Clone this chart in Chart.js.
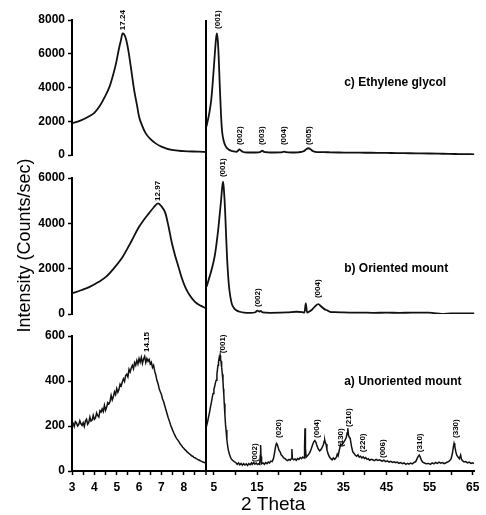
<!DOCTYPE html>
<html><head><meta charset="utf-8">
<script src="https://cdn.jsdelivr.net/npm/chart.js@4.4.1/dist/chart.umd.min.js"></script>
<style>html,body{margin:0;padding:0;background:#fff;}#wrap{position:relative;width:486px;height:515px;}</style>
</head><body><div id="wrap"><canvas id="c"></canvas></div>
<script>
// ---------- DATA (2θ in degrees, intensity in counts/sec) ----------
// c) Ethylene glycol
const glycolLow = [[3.0,1880],[3.4,2050],[3.79,2310],[4.0,2500],[4.24,2900],[4.45,3400],[4.68,4050],[4.85,4800],[4.97,5430],[5.1,6300],[5.19,6810],[5.26,7210],[5.33,7150],[5.41,6900],[5.52,6200],[5.63,5230],[5.78,3850],[5.9,3000],[6.0,2270],[6.15,1700],[6.3,1280],[6.5,950],[6.74,690],[7.0,500],[7.46,300],[8.0,230],[8.65,200],[9.0,180]];
const glycolHigh = [[3.3,1700],[3.5,1950],[3.8,2300],[4.1,2750],[4.38,3260],[4.7,4200],[5.0,5230],[5.3,6300],[5.5,6900],[5.69,7210],[5.9,6800],[6.07,6040],[6.37,4050],[6.67,2270],[6.85,1550],[7.06,1085],[7.4,720],[7.8,490],[8.4,330],[8.96,255],[9.6,210],[10.2,190],[10.6,250],[10.9,340],[11.3,260],[11.8,180],[12.8,150],[14,150],[15.4,160],[15.9,200],[16.2,255],[16.6,190],[17.5,160],[19,150],[20.5,155],[21.0,180],[21.3,200],[21.7,170],[23,150],[24.5,160],[25.8,220],[26.4,340],[26.9,400],[27.4,340],[28.0,220],[29,170],[30.5,170],[32,160],[34,150],[36,145],[38,140],[40,135],[43,130],[46,120],[49,110],[52,100],[55,90],[58,75],[61,60],[63,50],[65.4,40]];
// b) Oriented mount
const orientedLow = [[3.0,913],[3.4,1050],[3.79,1200],[4.2,1420],[4.53,1650],[4.9,2050],[5.27,2530],[5.65,3200],[6.0,3850],[6.25,4200],[6.44,4440],[6.65,4700],[6.85,4880],[7.0,4750],[7.18,4440],[7.32,3850],[7.47,3120],[7.62,2550],[7.76,2090],[7.9,1620],[8.06,1200],[8.25,850],[8.5,540],[8.75,370],[9.0,250]];
const orientedHigh = [[3.3,1200],[4.0,1650],[4.6,2050],[5.16,2530],[5.6,3100],[6.07,3850],[6.4,4500],[6.67,5030],[6.9,5550],[7.13,5840],[7.35,5400],[7.59,4590],[7.8,3600],[8.04,2530],[8.3,1700],[8.59,1060],[9.12,470],[9.6,280],[10.1,176],[11,100],[12.0,60],[13.5,50],[14.6,80],[15.1,147],[15.5,110],[15.8,140],[16.3,70],[18,55],[20.4,60],[22,70],[24.2,100],[25.5,80],[26.0,60],[26.3,470],[26.6,60],[27.2,120],[27.65,176],[28.4,330],[29.2,440],[29.9,330],[30.7,206],[31.3,160],[31.9,100],[33,80],[35,70],[37,65],[39.5,60],[42,55],[45,60],[48,55],[51,60],[54.7,60],[56,40],[57.8,10],[60,25],[62.5,30],[65.4,30]];
// a) Unoriented mount
const unorientedLowStart = 3.0, unorientedLowStep = 0.05;
const unorientedLow = [205,212,198,220,214,200,206,224,210,203,215,198,222,230,208,216,240,222,226,248,230,236,258,246,240,268,262,276,264,292,270,285,304,298,308,336,316,330,352,340,366,350,362,386,378,396,410,398,424,430,418,452,440,458,470,455,482,470,492,476,500,484,505,478,498,510,482,500,488,496,476,
484,460,470,444,426,402,388,366,352,340,320,308,290,272,256,238,224,208,194,182,170,160,150,142,135,127,119,114,106,101,95,91,85,81,76,73,68,66,61,59,55,53,50,48,45,43,40,39,36,34];
const unorientedHigh = [[3.25,197],[3.5,215],[3.75,240],[4.0,262],[4.2,285],[4.38,301],[4.6,325],[4.8,345],[5.0,362],[5.2,378],[5.35,392],[5.53,404],[5.7,430],[5.85,455],[5.95,470],[6.07,485],[6.2,500],[6.3,490],[6.45,514],[6.55,495],[6.65,488],[6.75,470],[6.83,462],[6.95,430],[7.1,400],[7.2,365],[7.29,344],[7.4,300],[7.55,250],[7.7,205],[7.82,182],[8.0,140],[8.2,110],[8.35,93],[8.6,75],[8.96,56],[9.3,48],[9.7,42],[10.1,37],[10.4,30],[10.7,36],[11.0,28],[11.3,34],[11.6,26],[11.9,33],[12.2,27],[12.5,32],[12.8,25],[13.1,33],[13.4,28],[13.7,36],[13.9,30],[14.2,38],[14.5,31],[14.8,36],[15.1,29],[15.4,33],[15.6,30],[15.75,70],[15.83,116],[15.92,65],[16.05,32],[16.4,36],[16.7,30],[17.0,38],[17.3,33],[17.6,40],[17.9,36],[18.2,44],[18.5,42],[18.8,55],[19.05,80],[19.3,110],[19.5,123],[19.7,118],[19.9,105],[20.1,92],[20.35,85],[20.6,72],[20.9,66],[21.2,58],[21.5,55],[21.8,50],[22.1,47],[22.4,52],[22.7,48],[22.95,55],[23.08,98],[23.2,55],[23.5,50],[23.8,54],[24.1,48],[24.4,56],[24.7,52],[25.0,60],[25.3,55],[25.6,62],[25.9,58],[26.02,110],[26.12,190],[26.22,100],[26.4,62],[26.7,68],[27.0,75],[27.3,85],[27.6,100],[27.9,118],[28.15,130],[28.4,136],[28.65,128],[28.9,112],[29.2,98],[29.5,90],[29.8,95],[30.1,105],[30.4,118],[30.55,132],[30.7,137],[30.85,125],[31.0,120],[31.2,95],[31.5,75],[31.8,62],[32.1,55],[32.4,50],[32.7,58],[33.0,52],[33.4,62],[33.6,75],[33.8,68],[34.1,95],[34.4,120],[34.7,115],[35.0,125],[35.4,137],[35.7,150],[35.9,170],[36.05,190],[36.2,160],[36.4,150],[36.6,145],[36.9,110],[37.2,85],[37.5,78],[37.8,70],[38.1,66],[38.4,72],[38.7,62],[39.0,66],[39.3,58],[39.6,63],[39.9,56],[40.2,60],[40.5,52],[40.8,55],[41.1,48],[41.5,52],[41.8,50],[42.2,46],[42.6,52],[43.0,47],[43.4,50],[43.7,47],[44.0,44],[44.4,48],[44.8,42],[45.2,45],[45.6,40],[46.0,43],[46.4,38],[46.8,41],[47.1,37],[47.5,40],[47.9,34],[48.3,38],[48.7,33],[49.1,36],[49.5,30],[49.9,34],[50.2,31],[50.6,35],[51.0,32],[51.4,38],[51.8,42],[52.1,55],[52.4,66],[52.6,71],[52.8,64],[53.1,48],[53.4,40],[53.8,36],[54.2,33],[54.8,34],[55.2,30],[55.6,36],[56.0,32],[56.4,38],[56.8,34],[57.2,40],[57.6,35],[58.0,38],[58.4,33],[58.8,37],[59.2,40],[59.6,45],[60.0,55],[60.3,79],[60.5,105],[60.68,123],[60.85,110],[61.1,85],[61.3,70],[61.6,62],[61.9,55],[62.2,71],[62.4,52],[62.7,45],[63.0,40],[63.4,42],[63.8,36],[64.2,40],[64.6,34],[65.0,37],[65.3,33]];

// tick values
const lowTicks = [3,3.5,4,4.5,5,5.5,6,6.5,7,7.5,8,8.5,9];
const highTicks = [5,10,15,20,25,30,35,40,45,50,55,60,65];
const highLabelled = [5,15,25,35,45,55,65];

// peak annotations: [text, 2θ, intensity at label foot]
const peaksC = [['(001)',5.92,7470],['(002)',10.95,590],['(003)',16.2,590],['(004)',21.25,590],['(005)',27.0,590]];
const peaksCLow = [['17.24',5.25,7400]];
const peaksB = [['(001)',7.06,6040],['(002)',15.07,310],['(004)',29.0,705]];
const peaksBLow = [['12.97',6.84,4990]];
const peaksA = [['(001)',7.06,524],['(002)',14.4,40],['(020)',20.1,147],['(004)',28.8,147],['(130)',34.5,107],['(210)',36.35,196],['(220)',39.55,84],['(006)',44.1,58],['(310)',52.8,84],['(330)',61.05,147]];
const peaksALow = [['14.15',6.35,529]];
const panelNames = [['c) Ethylene glycol',35.2,4300,'yC'],['b) Oriented mount',35.2,1985,'yB'],['a) Unoriented mount',35.2,396,'yA']];

// ---------- CHART ----------
Chart.defaults.font.family = '"Liberation Sans", Arial, sans-serif';
Chart.defaults.color = '#000';

const toXY = arr => arr.map(p => ({x: p[0], y: p[1]}));
const unorientedLowXY = unorientedLow.map((v, i) => ({x: unorientedLowStart + i * unorientedLowStep, y: v}));

function ds(data, xId, yId, width, smooth) {
  return {data, xAxisID: xId, yAxisID: yId, borderColor: '#111', borderWidth: width,
    pointRadius: 0, fill: false, tension: 0, cubicInterpolationMode: smooth ? 'monotone' : 'default'};
}

function yRow(min, max, step, weight, sw) {
  return {type: 'linear', position: 'left', stack: 'rows', stackWeight: sw, weight, min, max,
    ticks: {stepSize: step, color: '#000', font: {size: 12, weight: 'bold'}, padding: 3, callback: v => String(v)},
    grid: {drawOnChartArea: false, drawTicks: true, tickLength: 4, tickColor: '#000', tickWidth: 1.5},
    border: {display: true, color: '#000', width: 2},
    afterFit(s) { s.width = 35; }};
}
function ySpacer(weight, sw) {
  return {type: 'linear', position: 'left', stack: 'rows', stackWeight: sw, weight, min: 0, max: 1,
    ticks: {display: false}, grid: {display: false}, border: {display: false},
    afterFit(s) { s.width = 35; }};
}

const labelPlugin = {
  id: 'xrdLabels',
  afterDatasetsDraw(chart) {
    const ctx = chart.ctx;
    const sets = [[peaksC,'xHigh','yC'],[peaksCLow,'xLow','yC'],[peaksB,'xHigh','yB'],[peaksBLow,'xLow','yB'],[peaksA,'xHigh','yA'],[peaksALow,'xLow','yA']];
    ctx.save();
    ctx.fillStyle = '#000';
    sets.forEach(([items, xId, yId]) => {
      const xs = chart.scales[xId], ys = chart.scales[yId];
      items.forEach(([text, t, v]) => {
        ctx.save();
        ctx.translate(xs.getPixelForValue(t), ys.getPixelForValue(v));
        ctx.rotate(-Math.PI / 2);
        ctx.font = 'bold 8px "Liberation Sans", Arial, sans-serif';
        ctx.textAlign = 'left';
        ctx.textBaseline = 'middle';
        ctx.fillText(text, 0, 0);
        ctx.restore();
      });
    });
    panelNames.forEach(([text, t, v, yId]) => {
      ctx.font = 'bold 12px "Liberation Sans", Arial, sans-serif';
      ctx.textAlign = 'left';
      ctx.textBaseline = 'middle';
      ctx.fillText(text, chart.scales.xHigh.getPixelForValue(t), chart.scales[yId].getPixelForValue(v));
    });
    ctx.restore();
  }
};

new Chart(document.getElementById('c'), {
  type: 'line',
  data: {datasets: [
    ds(toXY(glycolLow), 'xLow', 'yC', 1.8, true),
    ds(toXY(glycolHigh), 'xHigh', 'yC', 1.8, true),
    ds(toXY(orientedLow), 'xLow', 'yB', 1.8, true),
    ds(toXY(orientedHigh), 'xHigh', 'yB', 1.8, true),
    ds(unorientedLowXY, 'xLow', 'yA', 1.5, false),
    ds(toXY(unorientedHigh), 'xHigh', 'yA', 1.5, false)
  ]},
  options: {
    responsive: true, maintainAspectRatio: false, animation: false,
    layout: {padding: {top: 20, right: 6, bottom: 0, left: 0}},
    plugins: {
      legend: {display: false}, tooltip: {enabled: false},
      title: {display: true, text: '2 Theta', position: 'bottom', fullSize: false,
        font: {size: 19, weight: 'normal', lineHeight: 1.05}, color: '#000', padding: {top: 0, bottom: 0}}
    },
    scales: {
      xLow: {type: 'linear', position: 'bottom', stack: 'cols', stackWeight: 136, weight: 0, min: 3, max: 9,
        afterBuildTicks(s) { s.ticks = lowTicks.map(v => ({value: v})); },
        ticks: {autoSkip: false, maxRotation: 0, padding: 5, font: {size: 12, weight: 'bold'}, color: '#000',
          callback: v => (Number.isInteger(v) && v < 9) ? String(v) : ''},
        grid: {drawOnChartArea: true, drawTicks: true, tickLength: 4, tickColor: '#000', tickWidth: 1.5,
          color: c => (c.tick && c.tick.value === 9) ? '#000' : 'rgba(0,0,0,0)',
          lineWidth: c => (c.tick && c.tick.value === 9) ? 2 : 1},
        border: {display: true, color: '#000', width: 2},
        afterFit(s) { s.height = 24; }},
      xHigh: {type: 'linear', position: 'bottom', stack: 'cols', stackWeight: 272, weight: 1, min: 3.2, max: 65.4,
        afterBuildTicks(s) { s.ticks = highTicks.map(v => ({value: v})); },
        ticks: {autoSkip: false, maxRotation: 0, padding: 5, font: {size: 12, weight: 'bold'}, color: '#000',
          callback: v => highLabelled.includes(v) ? String(v) : ''},
        grid: {drawOnChartArea: false, drawTicks: true, tickLength: 4, tickColor: '#000', tickWidth: 1.5},
        border: {display: true, color: '#000', width: 2},
        afterFit(s) { s.height = 24; }},
      yTitle: {type: 'linear', position: 'left', weight: 10, min: 0, max: 1,
        ticks: {display: false}, grid: {display: false}, border: {display: false},
        title: {display: true, text: 'Intensity (Counts/sec)', font: {size: 18, lineHeight: 1.2}, color: '#000', padding: {top: 14, bottom: 0}},
        afterFit(s) { s.width = 37; }},
      yC: yRow(0, 8000, 2000, 5, 135),
      gap1: ySpacer(4, 23),
      yB: yRow(0, 6000, 2000, 3, 136),
      gap2: ySpacer(2, 22),
      yA: yRow(0, 600, 200, 1, 135)
    }
  },
  plugins: [labelPlugin]
});
</script></body></html>
